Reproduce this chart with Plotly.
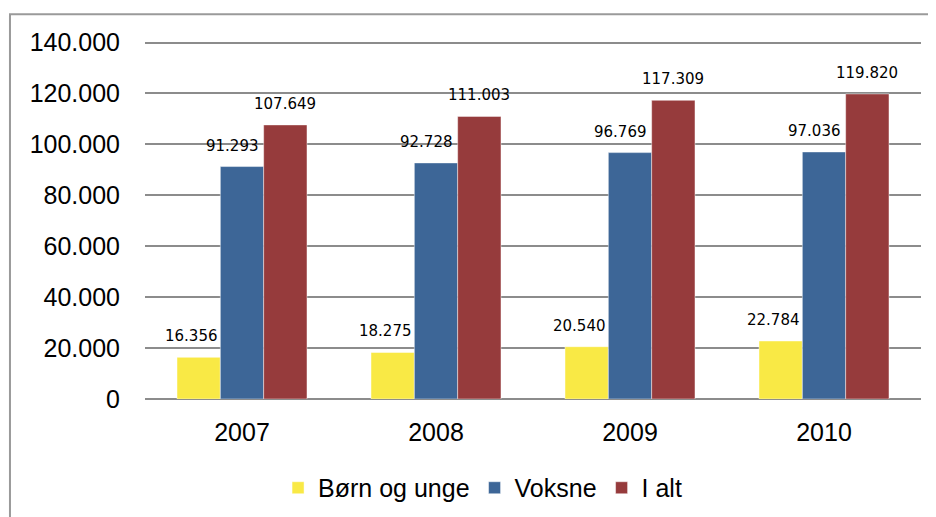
import plotly.graph_objects as go

years = ["2007", "2008", "2009", "2010"]
series_names = ["Børn og unge", "Voksne", "I alt"]
born_og_unge = [16356, 18275, 20540, 22784]
voksne = [91293, 92728, 96769, 97036]
i_alt = [107649, 111003, 117309, 119820]
y_ticks = [0, 20000, 40000, 60000, 80000, 100000, 120000, 140000]

colors = ["#F9E945", "#3D6697", "#963B3C"]
# pixel offset of each label from its category centre (bars sit at -43 / 0 / +43,
# the first two labels lean a little to the left as in the original)
label_shift = [-51, -10, 43]

fig = go.Figure()
for name, values, color in zip(series_names, [born_og_unge, voksne, i_alt], colors):
    fig.add_trace(go.Bar(
        x=years,
        y=values,
        name=name,
        marker=dict(color=color, line=dict(color="rgba(255,255,255,0.45)", width=1)),
    ))

# data labels above the bars, a bit further up than plotly's own outside text
# (category index is used for x so the strings are not read as numbers)
annotations = []
for values, dx in zip([born_og_unge, voksne, i_alt], label_shift):
    for i, v in enumerate(values):
        annotations.append(dict(
            x=i, y=v, xref="x", yref="y",
            text=f"{v:,}".replace(",", "."),
            showarrow=False,
            xshift=dx, yshift=21,
            font=dict(family="DejaVu Sans", size=15, color="#000000"),
        ))

# page body has an 8px margin, so the figure is a bit smaller than the window
fig.update_layout(
    width=928,
    height=509,
    paper_bgcolor="white",
    plot_bgcolor="white",
    margin=dict(l=137, r=15, t=32, b=118),
    barmode="group",
    bargap=0.33,
    bargroupgap=0,
    separators=",.",
    font=dict(family="Liberation Sans", size=25, color="#000000"),
    showlegend=True,
    legend=dict(
        orientation="h",
        x=0.435, xanchor="center",
        yref="container",
        y=0.057, yanchor="middle",
        font=dict(size=25),
        itemwidth=30,
        traceorder="normal",
    ),
    xaxis=dict(
        type="category",
        range=[-0.5, len(years) - 0.5],
        showgrid=False,
        showline=False,
        ticks="",
        ticklabelstandoff=16,
        tickfont=dict(size=25),
    ),
    yaxis=dict(
        range=[0, 141000],  # a little headroom so the 140.000 gridline is drawn
        tickvals=y_ticks,
        tickformat=",d",
        showgrid=True,
        gridcolor="#8c8c8c",
        gridwidth=1.5,
        zeroline=True,
        zerolinecolor="#8c8c8c",
        zerolinewidth=1.5,
        ticks="",
        ticklabelstandoff=24,
        tickfont=dict(size=25),
    ),
    annotations=annotations,
    shapes=[dict(
        type="rect", xref="paper", yref="paper",
        x0=-0.174, x1=1.3, y0=-0.6, y1=1.072,
        line=dict(color="#9a9a9a", width=2),
        fillcolor="rgba(0,0,0,0)",
        layer="below",
    )],
)

fig.write_html("out.html")
